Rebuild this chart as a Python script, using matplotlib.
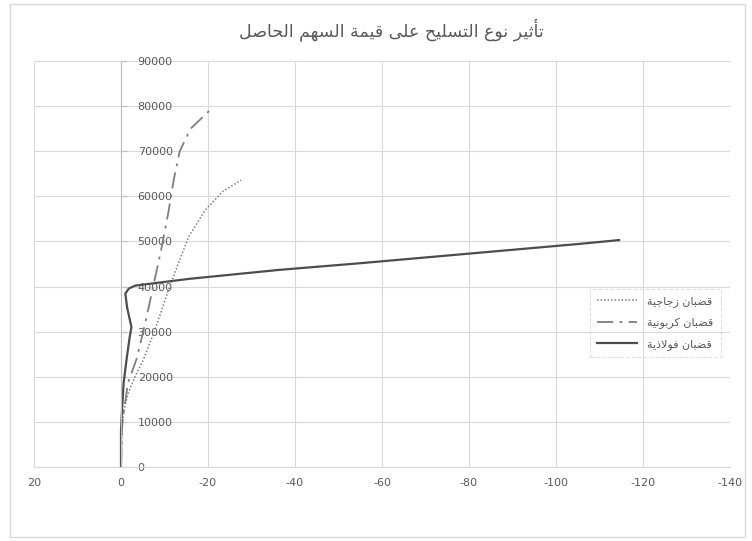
import matplotlib

matplotlib.use("Agg")
import matplotlib.pyplot as plt
from matplotlib.patches import Rectangle

# values (deflection, load)
glass_x = [0, -0.2, -0.6, -1.5, -3.2, -5.1, -7.8, -10.9, -13.2, -15.6, -19.4, -23.3, -27.6]
glass_y = [0, 8000, 12000, 16000, 20000, 23700, 30400, 39200, 45200, 51100, 57000, 61000, 63600]

carbon_x = [0, -0.3, -1.6, -3.6, -5.6, -7.4, -9.2, -10.8, -12.2, -13.5, -16.0, -21.0]
carbon_y = [0, 10000, 18600, 24000, 32000, 40000, 48000, 56000, 64000, 70000, 75000, 79600]

steel_x = [0, 0, -0.2, -0.6, -1.3, -2.0, -2.4, -1.4, -1.0, -1.8, -3.3, -15.6, -36.3, -54.7, -105.2, -114.5]
steel_y = [0, 8000, 12000, 18600, 24000, 28800, 31000, 35400, 38450, 39560, 40220, 41700, 43690, 45150, 49440, 50300]

x_ticks = [20, 0, -20, -40, -60, -80, -100, -120, -140]
y_ticks = [0, 10000, 20000, 30000, 40000, 50000, 60000, 70000, 80000, 90000]

title = "تأثير نوع التسليح على قيمة السهم الحاصل"
series_names = ["قضبان زجاجية", "قضبان كربونية", "قضبان فولاذية"]

# Arabic presentation forms: letter -> (isolated code point, number of forms)
FORMS = {
    "ء": (0xFE80, 1), "آ": (0xFE81, 2), "أ": (0xFE83, 2), "ؤ": (0xFE85, 2),
    "إ": (0xFE87, 2), "ئ": (0xFE89, 4), "ا": (0xFE8D, 2), "ب": (0xFE8F, 4),
    "ة": (0xFE93, 2), "ت": (0xFE95, 4), "ث": (0xFE99, 4), "ج": (0xFE9D, 4),
    "ح": (0xFEA1, 4), "خ": (0xFEA5, 4), "د": (0xFEA9, 2), "ذ": (0xFEAB, 2),
    "ر": (0xFEAD, 2), "ز": (0xFEAF, 2), "س": (0xFEB1, 4), "ش": (0xFEB5, 4),
    "ص": (0xFEB9, 4), "ض": (0xFEBD, 4), "ط": (0xFEC1, 4), "ظ": (0xFEC5, 4),
    "ع": (0xFEC9, 4), "غ": (0xFECD, 4), "ف": (0xFED1, 4), "ق": (0xFED5, 4),
    "ك": (0xFED9, 4), "ل": (0xFEDD, 4), "م": (0xFEE1, 4), "ن": (0xFEE5, 4),
    "ه": (0xFEE9, 4), "و": (0xFEED, 2), "ى": (0xFEEF, 2), "ي": (0xFEF1, 4),
}
LAM_ALEF = {"ا": 0xFEFB, "أ": 0xFEF7, "إ": 0xFEF9, "آ": 0xFEF5}


def joins_next(char):
    return char in FORMS and FORMS[char][1] == 4


def shape_arabic(text):
    # matplotlib has no text shaping, so pick contextual forms and reverse
    out = []
    prev = None
    i = 0
    while i < len(text):
        char = text[i]
        if char not in FORMS:
            out.append(char)
            prev = None
            i += 1
            continue
        linked_prev = prev is not None and joins_next(prev)
        nxt = text[i + 1] if i + 1 < len(text) else None
        if char == "ل" and nxt in LAM_ALEF:
            out.append(chr(LAM_ALEF[nxt] + (1 if linked_prev else 0)))
            prev = nxt
            i += 2
            continue
        linked_next = joins_next(char) and nxt in FORMS
        base, count = FORMS[char]
        if count == 1:
            form = 0
        elif linked_prev and linked_next:
            form = 3
        elif linked_prev:
            form = 1
        elif linked_next:
            form = 2
        else:
            form = 0
        out.append(chr(base + form))
        prev = char
        i += 1
    return "".join(reversed(out))


plt.rcParams["font.family"] = ["DejaVu Sans"]

W, H = 752, 541
fig = plt.figure(figsize=(W / 100, H / 100), dpi=100)
fig.patches.append(Rectangle((10 / W, 4 / H), 735 / W, 533 / H, transform=fig.transFigure,
                             fill=False, edgecolor="#D9D9D9", linewidth=1.0))

ax = fig.add_axes([34 / W, 74 / H, 696 / W, 406 / H])
text_color = "#595959"
grid_color = "#D9D9D9"

ax.plot(glass_x, glass_y, color="#7F7F7F", linewidth=1.1, linestyle=(0, (1, 1.3)),
        label=shape_arabic(series_names[0]))
ax.plot(carbon_x, carbon_y, color="#7F7F7F", linewidth=1.3, linestyle=(0, (9, 3.5, 1.5, 3.5)),
        label=shape_arabic(series_names[1]))
ax.plot(steel_x, steel_y, color="#4D4D4D", linewidth=1.6, linestyle="-",
        label=shape_arabic(series_names[2]))

ax.set_xlim(20, -140)
ax.set_ylim(0, 90000)
ax.set_xticks(x_ticks)
ax.set_xticklabels([str(v) for v in x_ticks])
ax.set_yticks(y_ticks)
ax.set_yticklabels([str(v) for v in y_ticks])

ax.grid(True, color=grid_color, linewidth=0.8)
ax.set_axisbelow(True)

for side in ["left", "top"]:
    ax.spines[side].set_visible(False)
ax.spines["bottom"].set_color(grid_color)
ax.spines["right"].set_position(("data", 0))
ax.spines["right"].set_color("#BFBFBF")
ax.yaxis.set_ticks_position("right")
ax.tick_params(axis="y", colors=text_color, labelsize=8, length=4, color="#BFBFBF", pad=8)
ax.tick_params(axis="x", colors=text_color, labelsize=8, length=0, pad=8)

fig.text(391 / W, 1 - 30 / H, shape_arabic(title), ha="center", va="center",
         fontsize=12.5, color=text_color)

legend = ax.legend(loc="upper left", bbox_to_anchor=(584 / W, 1 - 283 / H),
                   bbox_transform=fig.transFigure, fontsize=8, frameon=True,
                   fancybox=False, handlelength=3.6, handletextpad=0.9,
                   labelspacing=0.9, borderpad=0.7, labelcolor=text_color)
legend.get_frame().set_edgecolor("#D9D9D9")
legend.get_frame().set_linestyle("--")
legend.get_frame().set_linewidth(0.8)
legend.get_frame().set_facecolor("none")

fig.savefig("out.png", dpi=100)
